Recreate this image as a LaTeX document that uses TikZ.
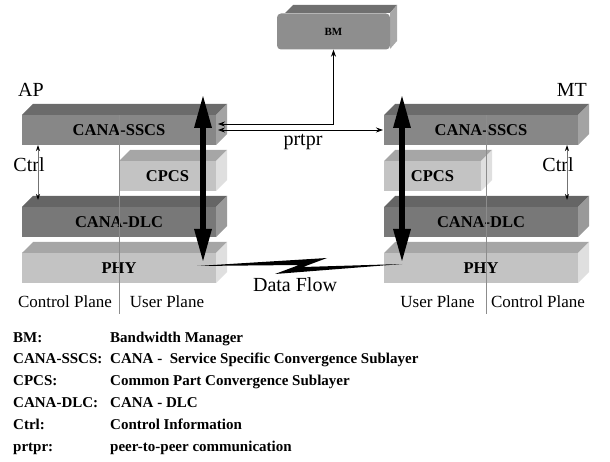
\documentclass[tikz,border=0pt]{standalone}
\usepackage{fontspec}
\setmainfont{Liberation Serif}
\usetikzlibrary{arrows.meta}

% face colours of the layer blocks
\definecolor{sscsfront}{HTML}{878787}
\definecolor{sscstop}{HTML}{6B6B6B}
\definecolor{sscsside}{HTML}{A3A3A3}
\definecolor{dlcfront}{HTML}{787878}
\definecolor{dlctop}{HTML}{656565}
\definecolor{dlcside}{HTML}{999999}
\definecolor{litefront}{HTML}{C3C3C3}
\definecolor{litetop}{HTML}{A6A6A6}
\definecolor{liteside}{HTML}{DFDFDF}
\definecolor{bmfront}{HTML}{8E8E8E}
\definecolor{bmtop}{HTML}{707070}
\definecolor{bmside}{HTML}{A8A8A8}

\tikzset{
  layerbox/.style={inner sep=0, outer sep=0, minimum height=30,
    font=\fontsize{16.5}{18}\selectfont\bfseries},
  plain/.style={font=\fontsize{20}{22}\selectfont},
  planelabel/.style={font=\fontsize{17}{19}\selectfont},
  legend/.style={anchor=base west, inner sep=0, font=\fontsize{15}{17}\selectfont\bfseries},
  sig/.style={line width=0.8, {Stealth[length=7,width=5]}-{Stealth[length=7,width=5]}},
  ctrlarrow/.style={draw=black!55, line width=0.8,
    {Stealth[length=6,width=4,black]}-{Stealth[length=6,width=4,black]}},
  flow/.style={line width=6, {Triangle[length=34,width=16]}-{Triangle[length=34,width=16]}},
  planeline/.style={draw=black!45, line width=0.5}
}

% block with front face node, top face and side face
\newcommand{\layerblock}[5]{%
  \node[layerbox, minimum width=#3, fill=#4front] (#1) at #2 {#5};
  \fill[#4top] (#1.north west) -- ++(11,-11) -- ([shift={(11,-11)}]#1.north east) -- (#1.north east) -- cycle;
  \fill[#4side] (#1.north east) -- ++(11,-11) -- ([shift={(11,-11)}]#1.south east) -- (#1.south east) -- cycle;
}

\begin{document}
\begin{tikzpicture}[x=1pt, y=-1pt]
    \useasboundingbox (0,0) rectangle (610,462);

    % Bandwidth Manager
    \fill[bmtop] (285,13) -- (293,5) -- (397,5) -- (390,13) -- cycle;
    \fill[bmside] (390,13) -- (397,5) -- (397,41) -- (390,49) -- cycle;
    \node[fill=bmfront, rounded corners=4, minimum width=113, minimum height=36, inner sep=0,
          font=\fontsize{11}{12}\selectfont\bfseries] (bm) at (333.5,31.5) {BM};

    % AP stack
    \layerblock{apsscs}{(119,130)}{194}{sscs}{CANA-SSCS}
    \layerblock{apcpcs}{(167.5,176)}{97}{lite}{CPCS}
    \layerblock{apdlc}{(119,222)}{194}{dlc}{CANA-DLC}
    \layerblock{apphy}{(119,268)}{194}{lite}{PHY}

    % MT stack
    \layerblock{mtsscs}{(481,130)}{194}{sscs}{CANA-SSCS}
    \layerblock{mtcpcs}{(432.5,176)}{97}{lite}{CPCS}
    \layerblock{mtdlc}{(481,222)}{194}{dlc}{CANA-DLC}
    \layerblock{mtphy}{(481,268)}{194}{lite}{PHY}

    % Plane dividers
    \draw[planeline] (119,115) -- (119,314);
    \draw[planeline] (486,115) -- (486,314);

    % Stack and plane labels
    \node[plain, anchor=base west, inner sep=0] (ap) at (18,97) {AP};
    \node[plain, anchor=base east, inner sep=0] (mt) at (587,97) {MT};
    \node[planelabel] (apcp) at (65,302) {Control Plane};
    \node[planelabel] (apup) at (167,302) {User Plane};
    \node[planelabel] (mtup) at (437.5,302) {User Plane};
    \node[planelabel] (mtcp) at (538,302) {Control Plane};

    % Control information
    \node[plain] (apctrl) at (29,165) {Ctrl};
    \node[plain] (mtctrl) at (558,165) {Ctrl};
    \draw[ctrlarrow] ([xshift=16]apsscs.south west) -- ([shift={(16,-7)}]apdlc.north west);
    \draw[ctrlarrow] ([xshift=-11]mtsscs.south east) -- ([shift={(-11,-7)}]mtdlc.north east);

    % Signalling to BM and peer-to-peer
    \coordinate (apbm) at (218,124);
    \coordinate (appeer) at (218,130);
    \draw[sig] (apbm) -| (bm.south);
    \draw[sig] (appeer) -- ([xshift=-1]mtsscs.west);
    \node[plain] (prtpr) at (303,142) {prtpr};

    % Data flow through the stacks
    \coordinate (apflowtop) at (203,94);
    \coordinate (apflowbot) at (203,263);
    \coordinate (mtflowtop) at (402,94);
    \coordinate (mtflowbot) at (402,263);
    \draw[flow] (apflowtop) -- (apflowbot);
    \draw[flow] (mtflowtop) -- (mtflowbot);

    % Radio link
    \coordinate (aplink) at (197,266);
    \coordinate (mtlink) at (402,264);
    \fill (aplink) -- (327,258) -- (303,267) -- (mtlink) -- (275,274) -- (299,265) -- cycle;
    \node[plain] (dataflow) at (295,285) {Data Flow};

    % Legend
    \foreach \k/\v [count=\i from 0] in {BM:/Bandwidth Manager,
        CANA-SSCS:/CANA -~ Service Specific Convergence Sublayer,
        CPCS:/Common Part Convergence Sublayer,
        CANA-DLC:/CANA - DLC,
        Ctrl:/Control Information,
        prtpr:/peer-to-peer communication}
    {
        \node[legend] (key\i) at (13,342+21.8*\i) {\k};
        \node[legend] (val\i) at (110,342+21.8*\i) {\v};
    }
\end{tikzpicture}
\end{document}
